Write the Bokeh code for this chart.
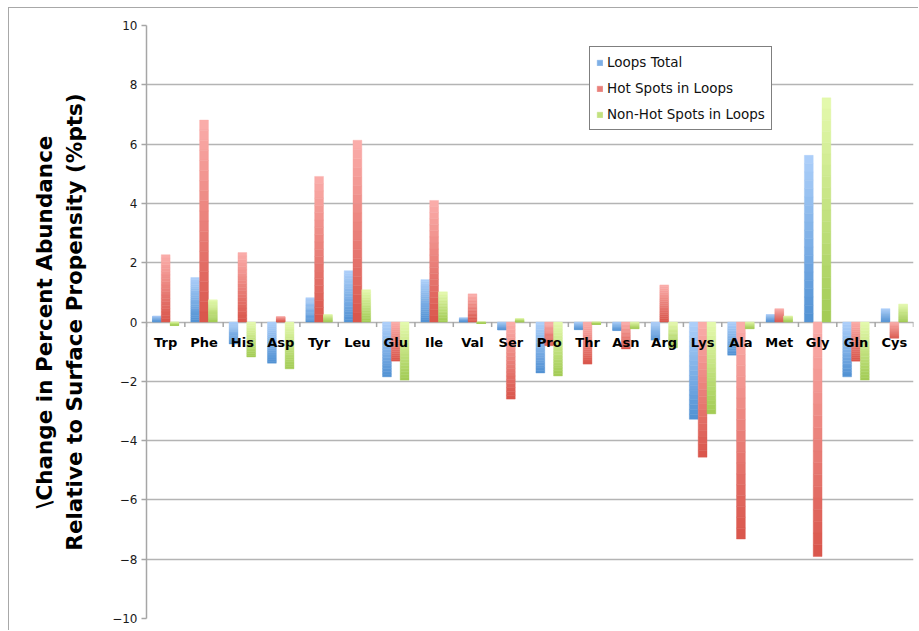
from bokeh.plotting import figure
from bokeh.models import ColumnDataSource, FactorRange, Range1d, Legend, LegendItem
from bokeh.transform import dodge
from bokeh.core.properties import value
from bokeh.embed import file_html
from bokeh.resources import INLINE

# Amino acids along the x axis
amino_acids = ["Trp", "Phe", "His", "Asp", "Tyr", "Leu", "Glu", "Ile", "Val", "Ser",
               "Pro", "Thr", "Asn", "Arg", "Lys", "Ala", "Met", "Gly", "Gln", "Cys"]

# Change in percent abundance relative to surface propensity (%pts)
loops_total = [0.20, 1.50, -0.74, -1.39, 0.82, 1.73, -1.85, 1.43, 0.14, -0.27,
               -1.72, -0.26, -0.29, -0.61, -3.28, -1.12, 0.25, 5.62, -1.85, 0.45]
hot_spots = [2.27, 6.81, 2.34, 0.18, 4.91, 6.13, -1.32, 4.10, 0.95, -2.60,
             -0.80, -1.42, -0.91, 1.25, -4.56, -7.32, 0.45, -7.91, -1.32, -0.55]
non_hot_spots = [-0.12, 0.75, -1.18, -1.58, 0.25, 1.09, -1.96, 1.02, -0.05, 0.11,
                 -1.82, -0.08, -0.23, -0.87, -3.10, -0.23, 0.20, 7.56, -1.96, 0.61]

series_names = ["Loops Total", "Hot Spots in Loops", "Non-Hot Spots in Loops"]
y_ticks = [-10, -8, -6, -4, -2, 0, 2, 4, 6, 8, 10]

# (light top, dark bottom) gradient colours per series
BLUE = ("#aed0fa", "#5191d3")
RED = ("#fbaeab", "#d9554b")
GREEN = ("#e5faae", "#a2cb54")

N_SLICES = 20
BAR_W = 0.23


def hex_to_rgb(h):
    h = h.lstrip("#")
    return tuple(int(h[i:i + 2], 16) for i in (0, 2, 4))


def blend(c0, c1, t):
    a, b = hex_to_rgb(c0), hex_to_rgb(c1)
    return "#%02x%02x%02x" % tuple(round(a[i] + (b[i] - a[i]) * t) for i in range(3))


def gradient_source(values, colors):
    """Split each bar into thin horizontal bands, light at the top, dark at the bottom."""
    xs, tops, bottoms, fills = [], [], [], []
    for cat, v in zip(amino_acids, values):
        hi, lo = max(v, 0.0), min(v, 0.0)
        span = hi - lo
        for k in range(N_SLICES):
            xs.append(cat)
            tops.append(hi - span * k / N_SLICES)
            bottoms.append(hi - span * (k + 1) / N_SLICES)
            fills.append(blend(colors[0], colors[1], (k + 0.5) / N_SLICES))
    return ColumnDataSource(dict(x=xs, top=tops, bottom=bottoms, fill=fills))


p = figure(
    x_range=FactorRange(*amino_acids, range_padding=0),
    y_range=Range1d(-10, 10),
    width=910, height=623,
    output_backend="svg", toolbar_location=None,
    x_axis_location=None,
    min_border_left=137, min_border_top=17, min_border_right=6, min_border_bottom=13,
)
p.margin = (7, 0, 0, 8)
p.styles = {"border-top": "1px solid #a8a8a8", "border-left": "1px solid #a8a8a8"}
p.outline_line_color = None
p.background_fill_color = "white"
p.border_fill_color = "white"

# grid
p.xgrid.visible = False
p.ygrid.ticker = y_ticks
p.ygrid.grid_line_color = "#b4b4b4"
p.ygrid.grid_line_width = 1.5

# y axis
yax = p.yaxis[0]
yax.ticker = y_ticks
yax.axis_line_color = "#a6a6a6"
yax.axis_line_width = 1.5
yax.major_tick_line_color = "#a6a6a6"
yax.major_tick_line_width = 1.5
yax.major_tick_out = 5
yax.major_tick_in = 0
yax.minor_tick_line_color = None
yax.major_label_standoff = 4
yax.major_label_text_font = "DejaVu Sans"
yax.major_label_text_font_size = "12px"
yax.major_label_text_color = "#1a1a1a"
yax.axis_label = "\\Change in Percent Abundance\nRelative to Surface Propensity (%pts)"
yax.axis_label_text_font = "DejaVu Sans"
yax.axis_label_text_font_style = "bold"
yax.axis_label_text_font_size = "21.5px"
yax.axis_label_text_color = "black"
yax.axis_label_standoff = 22

# bars
offsets = [-BAR_W, 0.0, BAR_W]
bar_renderers = []
for vals, cols, off in zip([loops_total, hot_spots, non_hot_spots], [BLUE, RED, GREEN], offsets):
    src = gradient_source(vals, cols)
    r = p.vbar(x=dodge("x", off, range=p.x_range), top="top", bottom="bottom", width=BAR_W,
               source=src, fill_color="fill", line_color="fill", line_width=0.4)
    bar_renderers.append(r)

# category axis drawn at zero: boundary ticks and labels
cat_src = ColumnDataSource(dict(x=amino_acids))
p.segment(x0=dodge("x", -0.5, range=p.x_range), y0=0, x1=dodge("x", -0.5, range=p.x_range), y1=-0.17,
          source=cat_src, line_color="#a6a6a6", line_width=1.5)
end_src = ColumnDataSource(dict(x=amino_acids[-1:]))
p.segment(x0=dodge("x", 0.5, range=p.x_range), y0=0, x1=dodge("x", 0.5, range=p.x_range), y1=-0.17,
          source=end_src, line_color="#a6a6a6", line_width=1.5)
p.text(x="x", y=0, text="x", source=cat_src, text_align="center", text_baseline="alphabetic",
       y_offset=20, text_font=value("DejaVu Sans"), text_font_style="bold",
       text_font_size="13px", text_color="black")

# legend: one swatch per series, taken from the middle of its gradient
legend_items = [LegendItem(label=name, renderers=[r], index=N_SLICES // 2)
                for name, r in zip(series_names, bar_renderers)]

legend = Legend(items=legend_items, location=(443, 488))
legend.border_line_color = "black"
legend.border_line_width = 1
legend.background_fill_color = "white"
legend.background_fill_alpha = 1
legend.padding = 6
legend.spacing = 8
legend.margin = 0
legend.glyph_width = 7
legend.glyph_height = 7
legend.label_height = 18
legend.label_standoff = 4
legend.label_text_font = "DejaVu Sans"
legend.label_text_font_size = "13.5px"
legend.label_text_color = "#111111"
p.add_layout(legend)

open("out.html", "w").write(file_html(p, INLINE))
